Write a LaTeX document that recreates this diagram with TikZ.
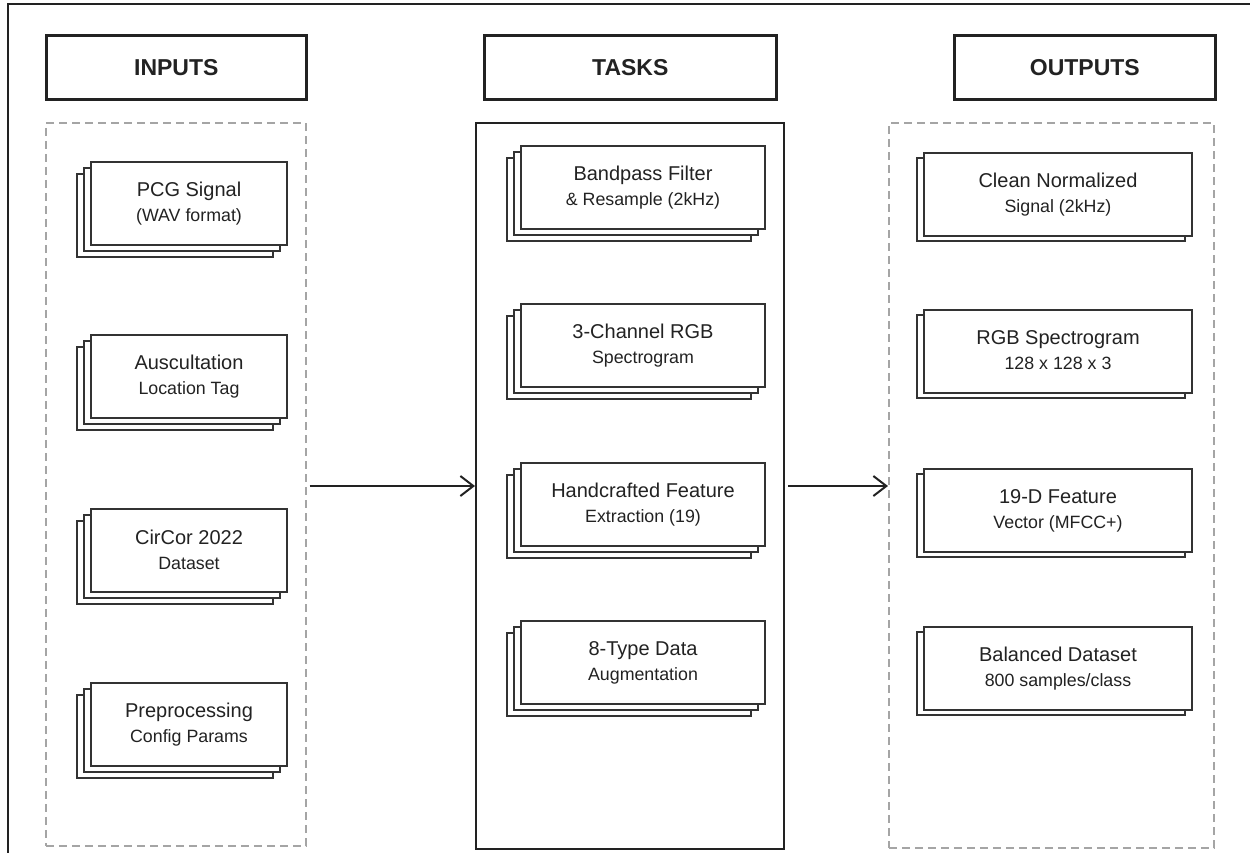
\documentclass[tikz,border=0pt]{standalone}
\usepackage{fontspec}
\setmainfont{Liberation Sans}
\usetikzlibrary{arrows.meta,backgrounds,calc}
\definecolor{ink}{HTML}{222222}
\definecolor{cardink}{HTML}{333333}
\definecolor{dashgray}{HTML}{A5A5A5}
\tikzset{
  frameline/.style={line width=2pt, draw=ink},
  header/.style={draw=ink, line width=2.6pt, fill=white, inner sep=0pt, minimum height=64pt,
    anchor=north west, text=ink, font=\bfseries\fontsize{23}{28}\selectfont},
  dashbox/.style={draw=dashgray, line width=1.6pt, dash pattern=on 8pt off 5pt, inner sep=0pt, anchor=north west},
  solidbox/.style={draw=ink, line width=2.4pt, inner sep=0pt, anchor=north west},
  card/.style={draw=cardink, line width=2pt, fill=white, inner sep=0pt, minimum height=83pt,
    anchor=north west, align=center, text=ink, font=\fontsize{20}{25}\selectfont},
  cardback/.style={draw=cardink, line width=2pt, fill=white},
  flow/.style={draw=ink, line width=2pt, -{Straight Barb[length=13pt,width=20pt]}}
}
% #1 name, #2 x0, #3 y0, #4 width, #5 layers, #6 offset, #7 line 1, #8 line 2
\newcommand{\stackcard}[8]{%
  \begin{scope}[on background layer]
    \ifnum#5>2 \draw[cardback] (#2-2*#6,#3+2*#6) rectangle ++(#4,83);\fi
    \draw[cardback] (#2-#6,#3+#6) rectangle ++(#4,83);
  \end{scope}
  \node[card, minimum width=#4pt] (#1) at (#2,#3)
    {\raisebox{2pt}{#7}\\{\fontsize{17.8}{25}\selectfont\raisebox{2pt}{#8}}};
}
\begin{document}
\begin{tikzpicture}[x=1pt,y=-1pt]
\useasboundingbox (0,0) rectangle (1250,852);
% outer frame (top and left edges only)
\draw[frameline] (1251,4) -- (7.5,4) -- (7.5,853);

% headers
\node[header, minimum width=260pt] (hin) at (45,34) {INPUTS};
\node[header, minimum width=292pt] (htask) at (483,34) {TASKS};
\node[header, minimum width=261pt] (hout) at (953,34) {OUTPUTS};

% containers
\node[dashbox, minimum width=260pt, minimum height=723pt] (inbox) at (45,122) {};
\node[solidbox, minimum width=308pt, minimum height=726pt] (taskbox) at (475,122) {};
\node[dashbox, minimum width=325pt, minimum height=725pt] (outbox) at (888,122) {};

% inputs
\stackcard{pcg}{90}{161}{196}{3}{6.5}{PCG Signal}{(WAV format)}
\stackcard{ausc}{90}{334}{196}{3}{6.5}{Auscultation}{Location Tag}
\stackcard{circor}{90}{508}{196}{3}{6.5}{CirCor 2022}{Dataset}
\stackcard{prep}{90}{682}{196}{3}{6.5}{Preprocessing}{Config Params}

% tasks
\stackcard{band}{520}{145}{244}{3}{6.5}{Bandpass Filter}{\& Resample (2kHz)}
\stackcard{rgb}{520}{303}{244}{3}{6.5}{3-Channel RGB}{Spectrogram}
\stackcard{hand}{520}{462}{244}{3}{6.5}{Handcrafted Feature}{Extraction (19)}
\stackcard{aug}{520}{620}{244}{3}{6.5}{8-Type Data}{Augmentation}

% outputs
\stackcard{clean}{923}{152}{268}{2}{6}{Clean Normalized}{Signal (2kHz)}
\stackcard{spec}{923}{309}{268}{2}{6}{RGB Spectrogram}{128 x 128 x 3}
\stackcard{vec}{923}{468}{268}{2}{6}{19-D Feature}{Vector (MFCC+)}
\stackcard{bal}{923}{626}{268}{2}{6}{Balanced Dataset}{800 samples/class}

% connectors
\coordinate (flowy) at (0,486);
\draw[flow] ([xshift=3pt]inbox.east |- flowy) -- (taskbox.west |- flowy);
\draw[flow] ([xshift=3pt]taskbox.east |- flowy) -- (outbox.west |- flowy);
\end{tikzpicture}
\end{document}
